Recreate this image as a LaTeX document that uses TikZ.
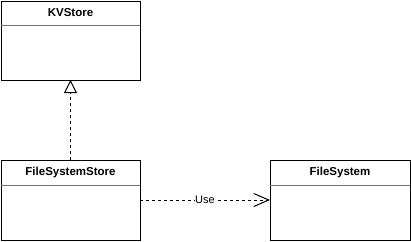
\documentclass[tikz,border=0pt]{standalone}
\usepackage{fontspec}
\setmainfont{Liberation Sans}
\usetikzlibrary{arrows.meta}
\tikzset{
  classbox/.style={draw=black, line width=1pt, fill=white},
  divider/.style={draw=black!55, line width=1pt},
  title/.style={font=\bfseries\fontsize{11.5}{13}\selectfont, inner sep=0pt},
  realize/.style={dashed, dash pattern=on 3pt off 3pt, line width=1pt, -{Triangle[open, length=13pt, width=13pt]}},
  depend/.style={dashed, dash pattern=on 3pt off 3pt, line width=1pt, -{Straight Barb[length=15pt, width=13pt, line width=1pt]}},
  lbl/.style={font=\fontsize{11}{13}\selectfont, fill=white, inner sep=0.5pt}
}
\begin{document}
\begin{tikzpicture}[x=1pt, y=-1pt]
\useasboundingbox (0,0) rectangle (411,241);
% KVStore
\draw[classbox] (1,1) rectangle (140,80);
\draw[divider] (1,25) -- (140,25);
\node[title] (kv) at (70.5,13) {KVStore};
\coordinate (kvb) at (70.5,80);
% FileSystemStore
\draw[classbox] (1,160) rectangle (140,240);
\draw[divider] (1,185) -- (140,185);
\node[title] (fss) at (70.5,172.5) {FileSystemStore};
\coordinate (fsst) at (70.5,160);
\coordinate (fssr) at (140,200);
% FileSystem
\draw[classbox] (270,160) rectangle (410,240);
\draw[divider] (270,185) -- (410,185);
\node[title] (fs) at (340,172.5) {FileSystem};
\coordinate (fsl) at (270,200);
% connectors
\draw[realize] (fsst) -- (kvb);
\draw[depend] (fssr) -- node[lbl] (use) {Use} (fsl);
\end{tikzpicture}
\end{document}
